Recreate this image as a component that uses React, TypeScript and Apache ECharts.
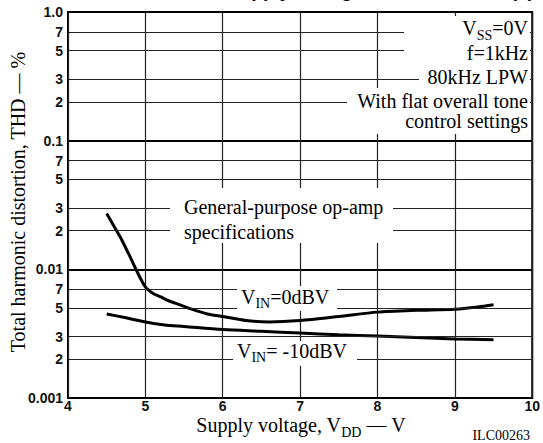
import React, { useEffect, useRef } from "react";
import * as echarts from "echarts";

// ---- data ----
const xTickValues = [4, 5, 6, 7, 8, 9, 10];
const yMajorLabels = ["0.001", "0.01", "0.1", "1.0"];
const minorValues = [0.7, 0.5, 0.3, 0.2, 0.07, 0.05, 0.03, 0.02, 0.007, 0.005, 0.003, 0.002];
const minorLabels = ["7", "5", "3", "2", "7", "5", "3", "2", "7", "5", "3", "2"];

const vdd0dBV = [4.5, 4.6, 4.7, 4.8, 4.9, 5.0, 5.1, 5.2, 5.3, 5.45, 5.6, 5.8, 6.0, 6.3, 6.6, 7.0, 7.5, 8.0, 8.5, 9.0, 9.3, 9.5];
const thd0dBV = [0.0272, 0.0213, 0.0167, 0.0126, 0.0094, 0.0073, 0.0065, 0.0061, 0.0057, 0.0053, 0.0049, 0.0045, 0.0043, 0.004, 0.0039, 0.004, 0.0043, 0.00465, 0.0048, 0.0049, 0.0051, 0.0053];

const vddM10dBV = [4.5, 4.75, 5.0, 5.25, 5.5, 6.0, 6.5, 7.0, 7.5, 8.0, 8.5, 9.0, 9.5];
const thdM10dBV = [0.0045, 0.0042, 0.0039, 0.0037, 0.0036, 0.0034, 0.0033, 0.0032, 0.0031, 0.00303, 0.00295, 0.00288, 0.00283];

const serif = "'Liberation Serif', 'Times New Roman', serif";
const sans = "'Liberation Sans', Arial, Helvetica, sans-serif";

const richStyles = {
  n: { font: `20px ${serif}`, fill: "#000", color: "#000" },
  s: { font: `14px ${serif}`, fill: "#000", color: "#000", padding: [7, 0, -7, 0] },
};

function label(x: number, y: number, text: string, align: string, extra: any = {}) {
  return {
    type: "text",
    x,
    y,
    z: 60,
    silent: true,
    style: {
      text,
      fill: "#000",
      font: `20px ${serif}`,
      textAlign: align,
      align,
      textVerticalAlign: "middle",
      verticalAlign: "middle",
      rich: richStyles,
      ...extra,
    },
  };
}

function box(x: number, y: number, w: number, h: number) {
  return { type: "rect", z: 50, silent: true, shape: { x, y, width: w, height: h }, style: { fill: "#fff" } };
}

export default function App() {
  const ref = useRef<HTMLDivElement>(null);
  useEffect(() => {
    document.body.style.margin = "0";
    const chart = echarts.init(ref.current!, null, { renderer: "svg" });
    const markLineData = minorValues.map((v, i) => ({
      yAxis: v,
      label: { formatter: minorLabels[i] },
    }));
    const tickFont = { color: "#111", fontFamily: sans, fontSize: 14, fontWeight: "bold", lineHeight: 14 };
    const option: any = {
      animation: false,
      grid: {
        left: 68,
        top: 12,
        width: 467,
        height: 386,
        show: true,
        borderColor: "#000",
        borderWidth: 2,
        backgroundColor: "transparent",
      },
      xAxis: {
        type: "value",
        min: xTickValues[0],
        max: xTickValues[xTickValues.length - 1],
        interval: 1,
        axisLine: { show: false },
        axisTick: { show: false },
        axisLabel: { margin: 1, ...tickFont, showMinLabel: true, showMaxLabel: true },
        splitLine: { show: true, lineStyle: { color: "#222", width: 1.2 } },
      },
      yAxis: {
        type: "log",
        logBase: 10,
        min: 0.001,
        max: 1,
        axisLine: { show: false },
        axisTick: { show: false },
        axisLabel: {
          margin: 5,
          ...tickFont,
          showMinLabel: true,
          showMaxLabel: true,
          formatter: (v: number) => yMajorLabels[Math.round(Math.log10(v)) + 3],
        },
        splitLine: { show: true, lineStyle: { color: "#000", width: 2 } },
      },
      series: [
        {
          name: "VIN=0dBV",
          type: "line",
          data: vdd0dBV.map((x, i) => [x, thd0dBV[i]]),
          symbol: "none",
          smooth: 0.25,
          lineStyle: { color: "#000", width: 3 },
          markLine: {
            silent: true,
            precision: 6,
            symbol: ["none", "none"],
            animation: false,
            lineStyle: { color: "#222", width: 1.2, type: "solid" },
            label: { position: "start", distance: 5, ...tickFont },
            emphasis: { disabled: true },
            data: markLineData,
          },
        },
        {
          name: "VIN=-10dBV",
          type: "line",
          data: vddM10dBV.map((x, i) => [x, thdM10dBV[i]]),
          symbol: "none",
          smooth: 0.3,
          lineStyle: { color: "#000", width: 3 },
        },
      ],
      graphic: [
        // white boxes that interrupt the grid behind annotations
        box(404, 16, 126, 46),
        box(419, 62, 111, 26),
        box(347, 88, 183, 46),
        box(170, 188, 223, 55),
        box(237, 286, 100, 25),
        box(233, 341, 124, 25),
        // title, cropped by the top edge as in the reference
        {
          type: "text",
          x: 534,
          y: 0,
          z: 60,
          silent: true,
          style: {
            text: "THD vs. Supply Voltage Characteristics (1)",
            fill: "#000",
            font: `bold 19px ${sans}`,
            textAlign: "right",
            align: "right",
            textVerticalAlign: "bottom",
            verticalAlign: "bottom",
          },
        },
        label(528, 28, "{n|V}{s|SS}{n|=0V}", "right"),
        label(528, 53, "f=1kHz", "right"),
        label(528, 76.5, "80kHz LPW", "right"),
        label(528, 110.5, "With flat overall tone\ncontrol settings", "right", { lineHeight: 20 }),
        label(184, 219, "General-purpose op-amp\nspecifications", "left", { lineHeight: 25 }),
        label(241, 296.5, "{n|V}{s|IN}{n|=0dBV}", "left"),
        label(237, 350.5, "{n|V}{s|IN}{n|= -10dBV}", "left"),
        label(301, 425, "{n|Supply voltage, V}{s|DD}{n| — V}", "center", {
          rich: {
            n: { ...richStyles.n, lineHeight: 15 },
            s: { ...richStyles.s, lineHeight: 15 },
          },
        }),
        {
          ...label(18, 202, "Total harmonic distortion, THD — %", "center"),
          rotation: Math.PI / 2,
        },
        label(530, 435, "ILC00263", "right", { font: `14px ${serif}` }),
      ],
    };
    chart.setOption(option);
    return () => chart.dispose();
  }, []);
  return <div ref={ref} style={{ position: "absolute", left: 0, top: 0, width: 543, height: 443 }} />;
}
